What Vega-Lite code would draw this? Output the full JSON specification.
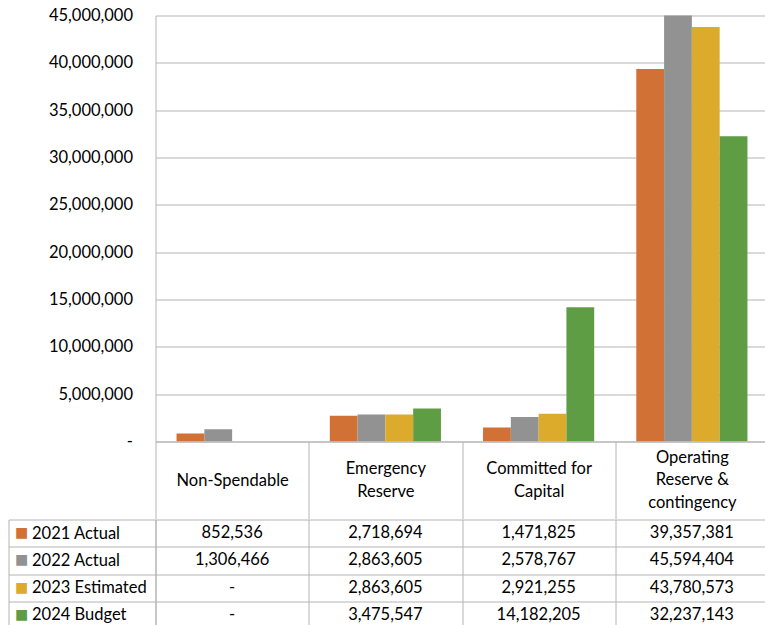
{
  "$schema": "https://vega.github.io/schema/vega-lite/v6.json",
  "padding": {"left": 7.5, "top": 7.5, "right": 0, "bottom": 0},
  "spacing": -9,
  "config": {
    "view": {"stroke": null},
    "axis": {
      "labelFont": "Lato",
      "labelFontSize": 16.5,
      "labelColor": "#000000",
      "domainColor": "#B4B4B4",
      "gridColor": "#B4B4B4",
      "tickColor": "#B4B4B4",
      "domainWidth": 1,
      "gridWidth": 1,
      "tickWidth": 1
    }
  },
  "datasets": {
    "funds": [
      {"category": "Non-Spendable", "series": "2021 Actual", "value": 852536},
      {"category": "Non-Spendable", "series": "2022 Actual", "value": 1306466},
      {"category": "Non-Spendable", "series": "2023 Estimated", "value": 0},
      {"category": "Non-Spendable", "series": "2024 Budget", "value": 0},
      {"category": "Emergency Reserve", "series": "2021 Actual", "value": 2718694},
      {"category": "Emergency Reserve", "series": "2022 Actual", "value": 2863605},
      {"category": "Emergency Reserve", "series": "2023 Estimated", "value": 2863605},
      {"category": "Emergency Reserve", "series": "2024 Budget", "value": 3475547},
      {"category": "Committed for Capital", "series": "2021 Actual", "value": 1471825},
      {"category": "Committed for Capital", "series": "2022 Actual", "value": 2578767},
      {"category": "Committed for Capital", "series": "2023 Estimated", "value": 2921255},
      {"category": "Committed for Capital", "series": "2024 Budget", "value": 14182205},
      {"category": "Operating Reserve & contingency", "series": "2021 Actual", "value": 39357381},
      {"category": "Operating Reserve & contingency", "series": "2022 Actual", "value": 45594404},
      {"category": "Operating Reserve & contingency", "series": "2023 Estimated", "value": 43780573},
      {"category": "Operating Reserve & contingency", "series": "2024 Budget", "value": 32237143}
    ]
  },
  "vconcat": [
    {
      "width": 613,
      "height": 426,
      "data": {"name": "funds"},
      "mark": {"type": "bar", "clip": true},
      "encoding": {
        "x": {
          "field": "category",
          "type": "nominal",
          "sort": ["Non-Spendable", "Emergency Reserve", "Committed for Capital", "Operating Reserve & contingency"],
          "scale": {"paddingInner": 0, "paddingOuter": 0},
          "axis": {
            "title": null,
            "orient": "bottom",
            "domain": true,
            "ticks": true,
            "tickBand": "extent",
            "tickSize": 77,
            "grid": false,
            "labelAngle": 0,
            "labelAlign": "center",
            "labelBaseline": "middle",
            "labelPadding": {
              "condition": [
                {"test": "datum.value === 'Operating Reserve & contingency'", "value": -61.5},
                {"test": "datum.value === 'Emergency Reserve' || datum.value === 'Committed for Capital'", "value": -50}
              ],
              "value": -38.5
            },
            "labelLineHeight": 22.75,
            "labelOverlap": false,
            "labelExpr": "datum.value === 'Emergency Reserve' ? ['Emergency', 'Reserve'] : datum.value === 'Committed for Capital' ? ['Committed for', 'Capital'] : datum.value === 'Operating Reserve & contingency' ? ['Operating', 'Reserve &', 'contingency'] : datum.value"
          }
        },
        "xOffset": {
          "field": "series",
          "type": "nominal",
          "sort": ["2021 Actual", "2022 Actual", "2023 Estimated", "2024 Budget"],
          "scale": {"paddingInner": 0, "paddingOuter": 0.757}
        },
        "y": {
          "field": "value",
          "type": "quantitative",
          "scale": {"domain": [0, 45000000], "nice": false},
          "axis": {
            "title": null,
            "values": [0, 5000000, 10000000, 15000000, 20000000, 25000000, 30000000, 35000000, 40000000, 45000000],
            "labelExpr": "datum.value === 0 ? '-' : format(datum.value, ',')",
            "grid": true,
            "domain": true,
            "ticks": false,
            "labelPadding": 23,
            "labelOverlap": false
          }
        },
        "color": {
          "field": "series",
          "type": "nominal",
          "scale": {
            "domain": ["2021 Actual", "2022 Actual", "2023 Estimated", "2024 Budget"],
            "range": ["#D17135", "#929292", "#DDAB2B", "#5F9D45"]
          },
          "legend": null
        }
      }
    },
    {
      "width": 613,
      "height": 109,
      "data": {"name": "funds"},
      "transform": [
        {"calculate": "datum.value === 0 ? '-' : format(datum.value, ',')", "as": "label"}
      ],
      "layer": [
        {
          "mark": {"type": "text", "font": "Lato", "fontSize": 16.5, "color": "#000000", "align": "center", "baseline": "middle"},
          "encoding": {
            "x": {
              "field": "category",
              "type": "nominal",
              "sort": ["Non-Spendable", "Emergency Reserve", "Committed for Capital", "Operating Reserve & contingency"],
              "scale": {"paddingInner": 0, "paddingOuter": 0},
              "axis": {"title": null, "orient": "top", "labels": false, "ticks": false, "domain": false, "grid": true, "tickBand": "extent"}
            },
            "y": {
              "field": "series",
              "type": "nominal",
              "sort": ["2021 Actual", "2022 Actual", "2023 Estimated", "2024 Budget"],
              "scale": {"paddingInner": 0, "paddingOuter": 0},
              "axis": {
                "title": null,
                "orient": "left",
                "grid": true,
                "tickBand": "extent",
                "ticks": true,
                "tickSize": 147,
                "domain": true,
                "labelAlign": "left",
                "labelBaseline": "middle",
                "labelPadding": -23,
                "labelOverlap": false
              }
            },
            "text": {"field": "label"}
          }
        },
        {
          "mark": {"type": "text", "text": ""},
          "encoding": {
            "y": {
              "field": "series",
              "type": "nominal",
              "sort": ["2021 Actual", "2022 Actual", "2023 Estimated", "2024 Budget"],
              "axis": {
                "title": null,
                "orient": "left",
                "offset": 147,
                "grid": false,
                "ticks": false,
                "domain": true,
                "labelExpr": "'■'",
                "labelAlign": "left",
                "labelBaseline": "middle",
                "labelPadding": -6,
                "labelFont": "DejaVu Sans",
                "labelFontSize": 14,
                "labelOverlap": false,
                "labelColor": {
                  "condition": [
                    {"test": "datum.value === '2021 Actual'", "value": "#D17135"},
                    {"test": "datum.value === '2022 Actual'", "value": "#929292"},
                    {"test": "datum.value === '2023 Estimated'", "value": "#DDAB2B"}
                  ],
                  "value": "#5F9D45"
                }
              }
            }
          }
        }
      ],
      "resolve": {"axis": {"y": "independent"}}
    }
  ]
}
